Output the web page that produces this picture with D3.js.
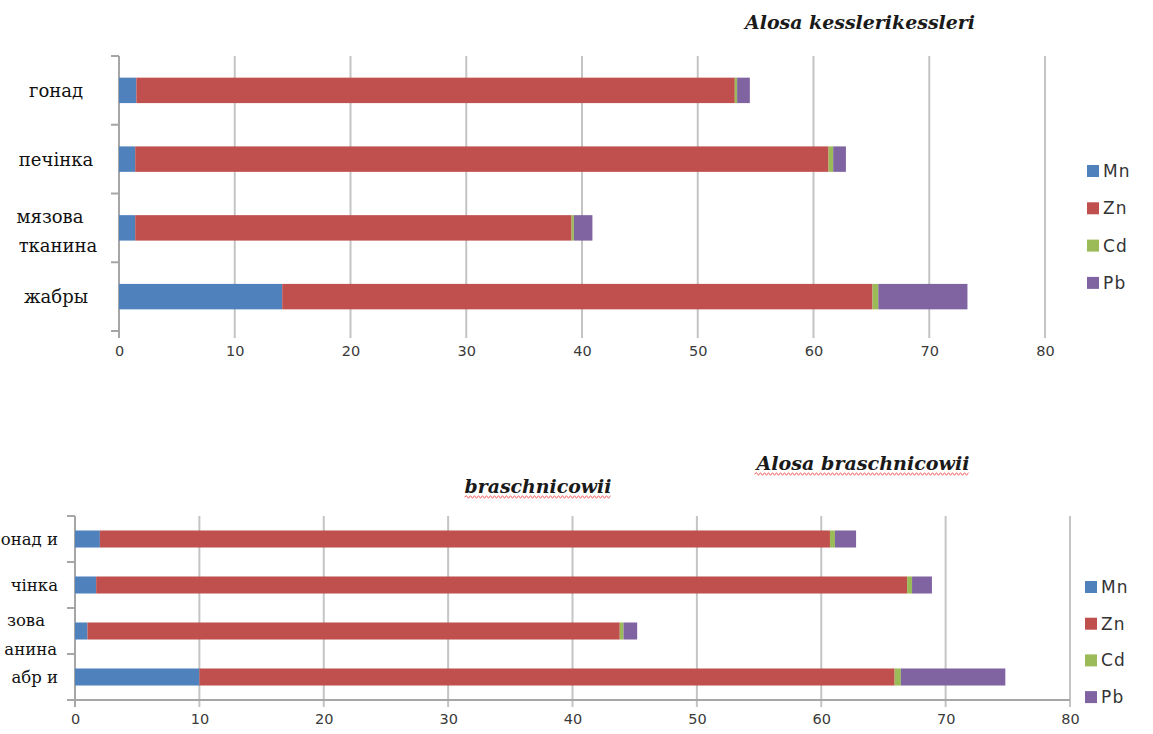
<!DOCTYPE html>
<html>
<head>
<meta charset="utf-8">
<script src="https://cdn.jsdelivr.net/npm/d3@7"></script>
<style>
  html, body { margin: 0; padding: 0; background: #fff; }
  svg { display: block; }
</style>
</head>
<body>
<svg id="chart" width="1153" height="734"></svg>
<script>
// ---- Data ----
const seriesNames = ["Mn", "Zn", "Cd", "Pb"];
const colors = ["#4F81BD", "#C0504D", "#9BBB59", "#8064A2"];
const xTicks = [0, 10, 20, 30, 40, 50, 60, 70, 80];

const kesslerCategories = ["гонад", "печінка", "мязова\nтканина", "жабры"];
const kesslerMn = [1.5, 1.4, 1.4, 14.1];
const kesslerZn = [51.7, 59.9, 37.7, 51.0];
const kesslerCd = [0.2, 0.4, 0.2, 0.5];
const kesslerPb = [1.1, 1.1, 1.6, 7.7];

// bottom chart: category labels are cut by the left edge in the reference
const braschCategories = ["онад и", "чінка", "зова\nанина", "абр и"];
const braschMn = [2.0, 1.7, 1.0, 10.0];
const braschZn = [58.7, 65.2, 42.8, 55.9];
const braschCd = [0.4, 0.4, 0.3, 0.5];
const braschPb = [1.7, 1.6, 1.1, 8.4];

const svg = d3.select("#chart");
const SERIF = "DejaVu Serif, Liberation Serif, serif";
const SANS = "DejaVu Sans, Liberation Sans, Arial, sans-serif";

function wavy(g, x0, x1, y) {
  let d = `M${x0},${y}`;
  let up = true;
  for (let x = x0 + 2; x <= x1; x += 2) {
    d += ` L${x},${y + (up ? -1.3 : 1.3)}`;
    up = !up;
  }
  g.append("path").attr("d", d).attr("fill", "none")
    .attr("stroke", "#f06060").attr("stroke-width", 1);
}

function drawChart(cfg) {
  const rows = cfg.categories.map((c, i) => ({
    cat: c, Mn: cfg.mn[i], Zn: cfg.zn[i], Cd: cfg.cd[i], Pb: cfg.pb[i]
  }));
  const stacked = d3.stack().keys(seriesNames)(rows);

  const x = d3.scaleLinear().domain([0, 80]).range([cfg.x0, cfg.x1]);
  const y = d3.scaleBand().domain(cfg.categories).range([cfg.y0, cfg.y1])
    .paddingInner(0.63).paddingOuter(0.315);

  const g = svg.append("g");

  // gridlines
  g.append("g").selectAll("line").data(xTicks.slice(1)).join("line")
    .attr("x1", d => x(d)).attr("x2", d => x(d))
    .attr("y1", cfg.y0).attr("y2", cfg.y1 + 7)
    .attr("stroke", "#c4c4c4").attr("stroke-width", 2);

  // x axis
  const xAxis = d3.axisBottom(x).tickValues(xTicks).tickSize(0).tickPadding(0);
  const xa = g.append("g").attr("transform", `translate(0,${cfg.y1})`).call(xAxis);
  xa.select(".domain").attr("stroke", cfg.showXDomain ? "#a6a6a6" : "none")
    .attr("stroke-width", 2)
    .attr("d", `M${cfg.x0},0H${cfg.x1}`);
  xa.selectAll("text")
    .attr("dy", 0).attr("y", cfg.tickLabelDy)
    .attr("dominant-baseline", "middle")
    .attr("font-family", SANS)
    .attr("font-size", 14.5).attr("fill", "#3a3a3a");

  // y axis line + category boundary ticks
  g.append("line").attr("x1", cfg.x0).attr("x2", cfg.x0)
    .attr("y1", cfg.y0).attr("y2", cfg.y1 + 7)
    .attr("stroke", "#a6a6a6").attr("stroke-width", 2);
  const bounds = [cfg.y0].concat(cfg.categories.map((c, i) => cfg.y0 + (i + 1) * y.step()));
  g.append("g").selectAll("line").data(bounds).join("line")
    .attr("x1", cfg.x0 - 8).attr("x2", cfg.x0)
    .attr("y1", d => d).attr("y2", d => d)
    .attr("stroke", "#a6a6a6").attr("stroke-width", 2);

  // bars
  g.append("g").selectAll("g").data(stacked).join("g")
    .attr("fill", (d, i) => colors[i])
    .selectAll("rect").data(d => d).join("rect")
    .attr("x", d => x(d[0]))
    .attr("width", d => Math.max(0, x(d[1]) - x(d[0])))
    .attr("y", d => y(d.data.cat))
    .attr("height", y.bandwidth());

  // category labels
  const lab = g.append("g")
    .attr("font-family", SERIF)
    .attr("font-size", cfg.labelSize).attr("fill", "#111");
  cfg.categories.forEach(c => {
    const lines = c.split("\n");
    const cy = y(c) + y.bandwidth() / 2;
    lines.forEach((t, k) => {
      const multi = lines.length > 1;
      const off = multi ? (k === 0 ? -9.5 : 19) : 1.5;
      lab.append("text")
        .attr("x", cfg.labelX + (multi ? cfg.multiShift[k] : 0))
        .attr("y", cy + off)
        .attr("text-anchor", cfg.labelAnchor)
        .attr("dominant-baseline", "middle")
        .text(t);
    });
  });

  // legend
  const lg = g.append("g")
    .attr("font-family", SANS)
    .attr("font-size", 17).attr("letter-spacing", 1.2).attr("fill", "#333");
  seriesNames.forEach((s, i) => {
    const yy = cfg.legY + i * cfg.legStep;
    lg.append("rect").attr("x", cfg.legX).attr("y", yy - 6)
      .attr("width", 12).attr("height", 12).attr("fill", colors[i]);
    lg.append("text").attr("x", cfg.legX + 16).attr("y", yy + 1)
      .attr("dominant-baseline", "middle").text(s);
  });
  return g;
}

// ---- Top chart ----
drawChart({
  categories: kesslerCategories, mn: kesslerMn, zn: kesslerZn, cd: kesslerCd, pb: kesslerPb,
  x0: 119, x1: 1045, y0: 56, y1: 331,
  showXDomain: false, tickLabelDy: 21,
  labelAnchor: "middle", labelX: 56, labelSize: 18, multiShift: [-6, 2],
  legX: 1087, legY: 171, legStep: 37.3
});

// ---- Bottom chart ----
drawChart({
  categories: braschCategories, mn: braschMn, zn: braschZn, cd: braschCd, pb: braschPb,
  x0: 75, x1: 1070, y0: 516, y1: 700,
  showXDomain: true, tickLabelDy: 20,
  labelAnchor: "end", labelX: 58, labelSize: 16.5, multiShift: [-13, -1],
  legX: 1085, legY: 587, legStep: 36.7
});

// ---- Titles ----
const tt = svg.append("g")
  .attr("font-family", SERIF)
  .attr("font-style", "italic").attr("font-weight", "bold")
  .attr("font-size", 19).attr("fill", "#1a1a1a");
tt.append("text").attr("x", 860).attr("y", 29).attr("text-anchor", "middle")
  .attr("textLength", 230).attr("lengthAdjust", "spacingAndGlyphs")
  .text("Alosa kesslerikessleri");
const t2 = tt.append("text").attr("x", 863).attr("y", 470).attr("text-anchor", "middle")
  .attr("textLength", 213).attr("lengthAdjust", "spacingAndGlyphs")
  .text("Alosa braschnicowii");
const t3 = tt.append("text").attr("x", 538).attr("y", 493).attr("text-anchor", "middle")
  .attr("textLength", 147).attr("lengthAdjust", "spacingAndGlyphs")
  .text("braschnicowii");
[t2, t3].forEach(t => {
  const b = t.node().getBBox();
  wavy(svg, b.x, b.x + b.width, b.y + b.height);
});
</script>
</body>
</html>
